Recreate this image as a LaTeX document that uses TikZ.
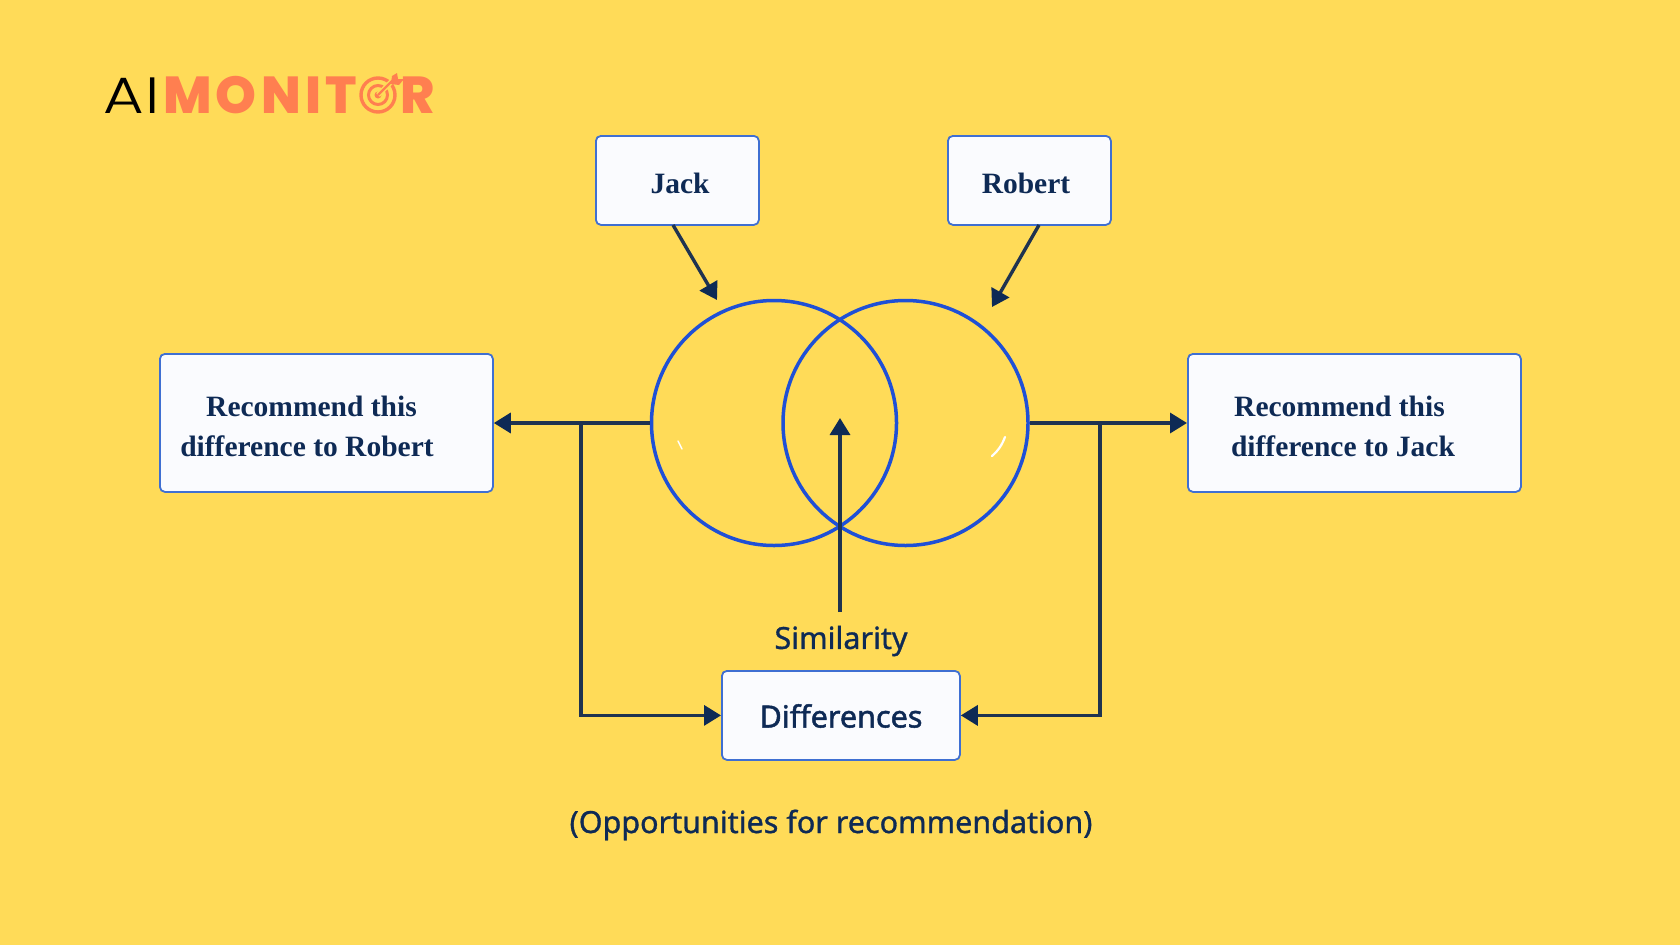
\documentclass[tikz,border=0pt]{standalone}
\usepackage{fontspec}
\usetikzlibrary{arrows.meta,calc}
\setmainfont{Liberation Serif}
\newfontfamily\labelfont{Noto Sans}[FakeBold=1]
\newfontfamily\difffont{Noto Sans}[FakeBold=1.6]
\newfontfamily\logofont{Poppins ExtraBold}[LetterSpace=8]
\newfontfamily\logothin{Poppins Light}[FakeStretch=1.22]
\definecolor{bgyellow}{HTML}{FFDB58}
\definecolor{logoorange}{HTML}{FF7F50}
\definecolor{boxblue}{HTML}{3F6FD2}
\definecolor{ringblue}{HTML}{1F50D6}
\definecolor{navy}{HTML}{0E2A55}
\definecolor{linknavy}{HTML}{1F3350}
\definecolor{boxfill}{HTML}{FAFBFE}
\tikzset{
  x=1pt,y=-1pt,
  card/.style={draw=boxblue,line width=1.8pt,fill=boxfill,rounded corners=5pt,anchor=north west,inner sep=0pt},
  cardtext/.style={font=\fontsize{29.5}{40}\selectfont\bfseries,text=navy,align=center,inner sep=0pt},
  plaintext/.style={font=\labelfont\fontsize{30.5}{36}\selectfont,text=navy,inner sep=0pt},
  ring/.style={draw=ringblue,line width=3.5pt,circle,minimum size=245pt,inner sep=0pt},
  link/.style={draw=linknavy,line width=3.4pt,-{Triangle[length=17pt,width=20pt,color=navy]}},
}
\begin{document}
\begin{tikzpicture}
\useasboundingbox (0,0) rectangle (1680,945);
\fill[bgyellow] (0,0) rectangle (1680,945);
% logo
\node[anchor=base west,inner sep=0pt,text=black] (logoai) at (103,113) {\logothin\fontsize{51}{51}\selectfont A\kern2pt I};
\node[anchor=base west,inner sep=0pt,text=logoorange] (logomon) at (163,113) {\logofont\fontsize{52}{52}\selectfont MONIT};
\node[anchor=base west,inner sep=0pt,text=logoorange] (logor) at (400,113) {\logofont\fontsize{52}{52}\selectfont R};
\coordinate (tg) at (378,95);
\draw[logoorange,line width=3.4pt] (tg) circle (17);
\draw[logoorange,line width=3pt] (tg) circle (9.5);
\fill[logoorange] (tg) circle (3.5);
\draw[bgyellow,line width=5pt] (tg) -- ++(22,-22);
\draw[logoorange,line width=2.4pt] (tg) -- ++(18,-18);
\fill[logoorange] (391,84) -- (392,76) -- (397,73) -- (398,79) -- (404,79) -- (399,85) -- cycle;
% boxes
\node[card,minimum width=163pt,minimum height=89pt] (jack) at (595,135) {};
\node[cardtext] (jacktxt) at (680,183) {Jack};
\node[card,minimum width=163pt,minimum height=89pt] (robert) at (947,135) {};
\node[cardtext] (roberttxt) at (1026,183) {Robert};
\node[card,minimum width=333pt,minimum height=138pt] (recl) at (159,353) {};
\node[cardtext] (recltxt) at (307,426) {\hspace*{9pt}Recommend this\\difference to Robert};
\node[card,minimum width=333pt,minimum height=138pt] (recr) at (1187,353) {};
\node[cardtext] (recrtxt) at (1343,426) {Recommend this\hspace*{7pt}\\difference to Jack};
\node[card,minimum width=238pt,minimum height=89pt] (diff) at (721,670) {};
\node[plaintext,font=\difffont\fontsize{30.5}{36}\selectfont] (difftxt) at (841,716) {Differences};
% texts
\node[plaintext] (sim) at (841,641) {Similarity};
\node[plaintext] (opp) at (831,825) {(Opportunities for recommendation)};
% rings
\node[ring] (cl) at (774,423) {};
\node[ring] (cr) at (905.5,423) {};
% glints
\draw[white,line width=1.5pt,line cap=round] (678,441) -- (682,449);
\draw[white,line width=2.2pt,line cap=round] (1005,437) .. controls (1002,445) and (998,451) .. (992,456);
% connectors
\coordinate (jackfrom) at (673,225);
\coordinate (jackto) at (717,300);
\coordinate (robfrom) at (1039,225);
\coordinate (robto) at (992,307);
\coordinate (lbranch) at (581,423);
\coordinate (rbranch) at (1100,423);
\coordinate (simto) at (840,418);
\coordinate (simfrom) at (840,612);
\draw[link] (jackfrom) -- (jackto);
\draw[link] (robfrom) -- (robto);
\draw[link] (cl.west) -- (cl.west -| recl.east);
\draw[link] (cr.east) -- (cr.east -| recr.west);
\draw[link] (lbranch) |- (diff.west);
\draw[link] (rbranch) |- (diff.east);
\draw[link] (simfrom) -- (simto);
\end{tikzpicture}
\end{document}
